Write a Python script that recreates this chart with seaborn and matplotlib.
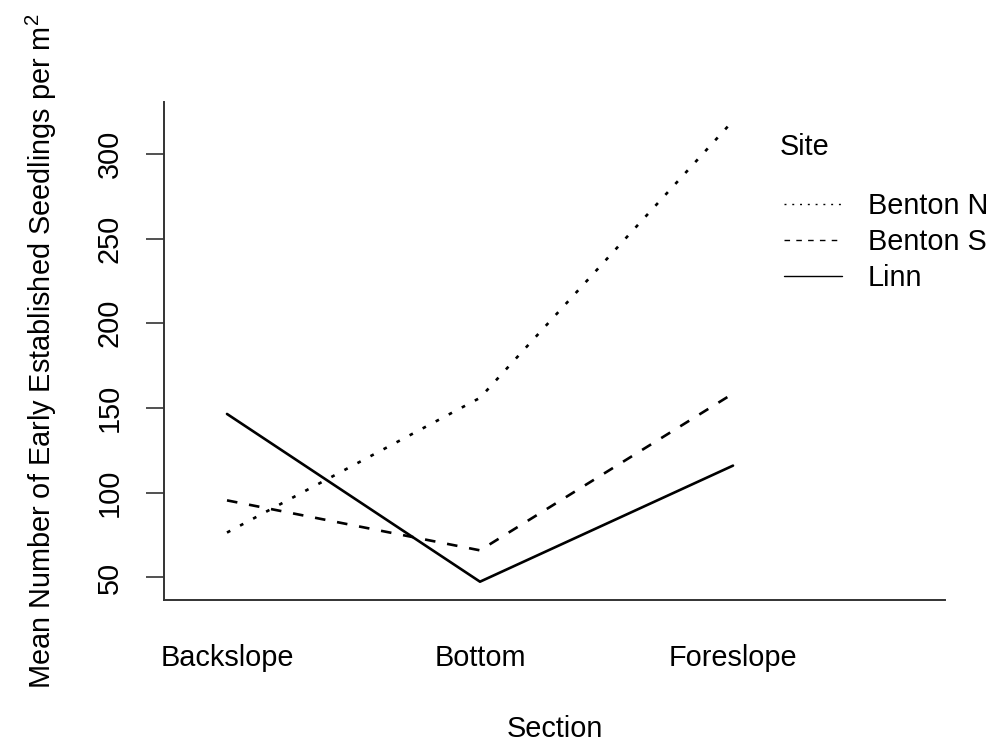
import matplotlib
matplotlib.use("Agg")
import matplotlib.pyplot as plt
import seaborn as sns
import pandas as pd

sections = ["Backslope", "Bottom", "Foreslope"]
sites = ["Benton N", "Benton S", "Linn"]
benton_n = [76.5, 156.0, 319.5]
benton_s = [95.5, 66.0, 158.5]
linn = [146.5, 47.5, 116.0]

df = pd.DataFrame({
    "Section": sections * 3,
    "Site": [s for s in sites for _ in sections],
    "Mean": benton_n + benton_s + linn,
})

sns.set_theme(style="white")
plt.rcParams["font.family"] = ["Liberation Sans", "DejaVu Sans"]
plt.rcParams["mathtext.fontset"] = "custom"
plt.rcParams["mathtext.rm"] = "Liberation Sans"
plt.rcParams["mathtext.default"] = "regular"
plt.rcParams["text.color"] = "black"
plt.rcParams["axes.labelcolor"] = "black"
plt.rcParams["xtick.color"] = "black"
plt.rcParams["ytick.color"] = "black"

fs = 20.8
fig = plt.figure(figsize=(9.93, 7.42), dpi=100)
ax = fig.add_axes([164 / 993, 142 / 742, 781 / 993, 498 / 742])

dash_map = {"Benton N": (1.4, 4.2), "Benton S": (4.0, 4.5), "Linn": ""}
sns.lineplot(data=df, x="Section", y="Mean", style="Site", style_order=sites,
             dashes=dash_map, color="black", linewidth=1.9, ax=ax,
             legend="brief")

ax.set_xlim(-0.249, 2.838)
ax.set_ylim(36.7, 330.6)
ax.set_yticks([50, 100, 150, 200, 250, 300])

for side in ["top", "right"]:
    ax.spines[side].set_visible(False)
for side in ["left", "bottom"]:
    ax.spines[side].set_color("#333333")
    ax.spines[side].set_linewidth(1.4)

ax.tick_params(axis="y", direction="out", length=13, width=1.2,
               color="#333333", pad=16, labelsize=fs, left=True)
plt.setp(ax.get_yticklabels(), rotation=90, va="center")
ax.tick_params(axis="x", length=0, pad=31.5, labelsize=fs)

ax.set_xlabel("Section", fontsize=fs, labelpad=31)
ax.set_ylabel("Mean Number of Early Established Seedlings per m$^{2}$",
              fontsize=fs, labelpad=26.5)

# Legend: title placed on its own, entries below with a wider gap
fig.text(780 / 993, 1 - 147 / 742, "Site", fontsize=fs,
         ha="left", va="center")
handles, labels = ax.get_legend_handles_labels()
leg = ax.legend(handles, labels, frameon=False, fontsize=fs,
                loc="upper left", bbox_to_anchor=(784 / 993, 1 - 192 / 742),
                bbox_transform=fig.transFigure, handlelength=2.0,
                handletextpad=0.9, labelspacing=0.28, borderaxespad=0,
                borderpad=0)
for line in leg.get_lines():
    line.set_linewidth(1.0)

fig.savefig("out.png", dpi=100, facecolor="white")
